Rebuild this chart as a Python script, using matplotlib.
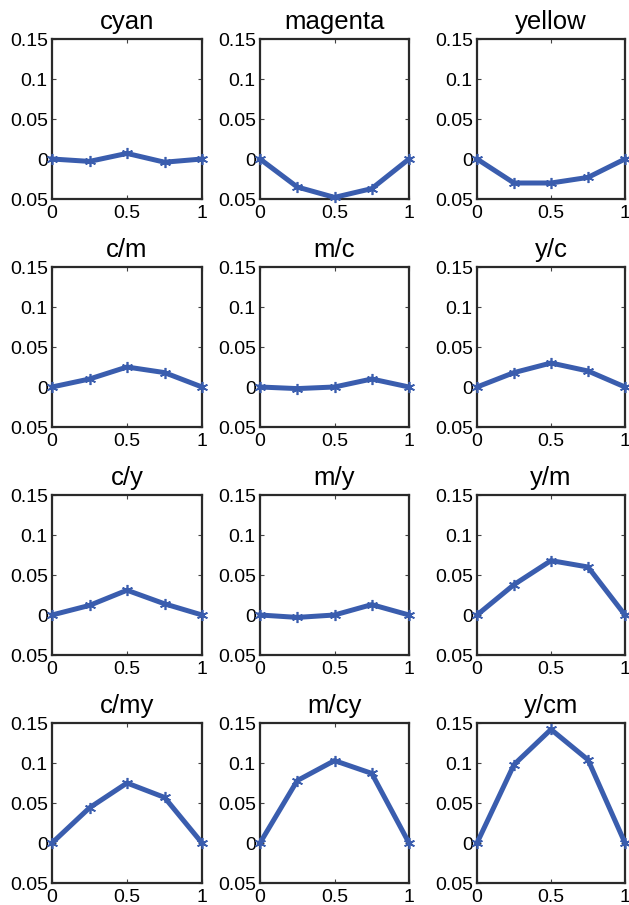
import numpy as np
import matplotlib
matplotlib.use("Agg")
import matplotlib.pyplot as plt

matplotlib.rcParams['font.family'] = ['Liberation Sans', 'DejaVu Sans']

# data
x = [0, 0.25, 0.5, 0.75, 1]
titles = ["cyan", "magenta", "yellow",
          "c/m", "m/c", "y/c",
          "c/y", "m/y", "y/m",
          "c/my", "m/cy", "y/cm"]
cyan = [0, -0.003, 0.007, -0.004, 0]
magenta = [0, -0.035, -0.048, -0.037, 0]
yellow = [0, -0.03, -0.03, -0.023, 0]
c_m = [0, 0.01, 0.025, 0.018, 0]
m_c = [0, -0.002, 0.0, 0.01, 0]
y_c = [0, 0.018, 0.03, 0.02, 0]
c_y = [0, 0.012, 0.031, 0.014, 0]
m_y = [0, -0.003, 0.0, 0.013, 0]
y_m = [0, 0.038, 0.068, 0.06, 0]
c_my = [0, 0.044, 0.075, 0.057, 0]
m_cy = [0, 0.078, 0.103, 0.087, 0]
y_cm = [0, 0.098, 0.142, 0.104, 0]
series = [cyan, magenta, yellow, c_m, m_c, y_c, c_y, m_y, y_m, c_my, m_cy, y_cm]

yticks = [-0.05, 0, 0.05, 0.1, 0.15]
ytick_labels = ["0.05", "0", "0.05", "0.1", "0.15"]
xticks = [0, 0.5, 1]
xtick_labels = ["0", "0.5", "1"]

W, H = 629, 905
fig = plt.figure(figsize=(W / 100, H / 100), dpi=100)

lefts = [52, 260, 477]
widths = [150, 149, 148]
tops = [39, 267, 495, 723]
h = 160

for i, (t, s) in enumerate(zip(titles, series)):
    r, c = divmod(i, 3)
    ax = fig.add_axes([lefts[c] / W, 1 - (tops[r] + h) / H, widths[c] / W, h / H])
    ax.plot(x, s, color='#3a5dae', lw=3.6, marker=(6, 2, 0), ms=8, mew=1.2,
            clip_on=False, zorder=3)
    ax.set_xlim(0, 1)
    ax.set_ylim(-0.05, 0.15)
    ax.set_xticks(xticks)
    ax.set_xticklabels(xtick_labels)
    ax.set_yticks(yticks)
    ax.set_yticklabels(ytick_labels)
    ax.tick_params(direction='in', length=3, labelsize=14, color='#444444',
                   top=True, right=True)
    ax.tick_params(axis='x', pad=4)
    ax.tick_params(axis='y', pad=3)
    for sp in ax.spines.values():
        sp.set_color('#2a2a2a')
        sp.set_linewidth(1.6)
    ax.set_title(t, fontsize=18.5, pad=7)

plt.savefig("out.png", dpi=100)
